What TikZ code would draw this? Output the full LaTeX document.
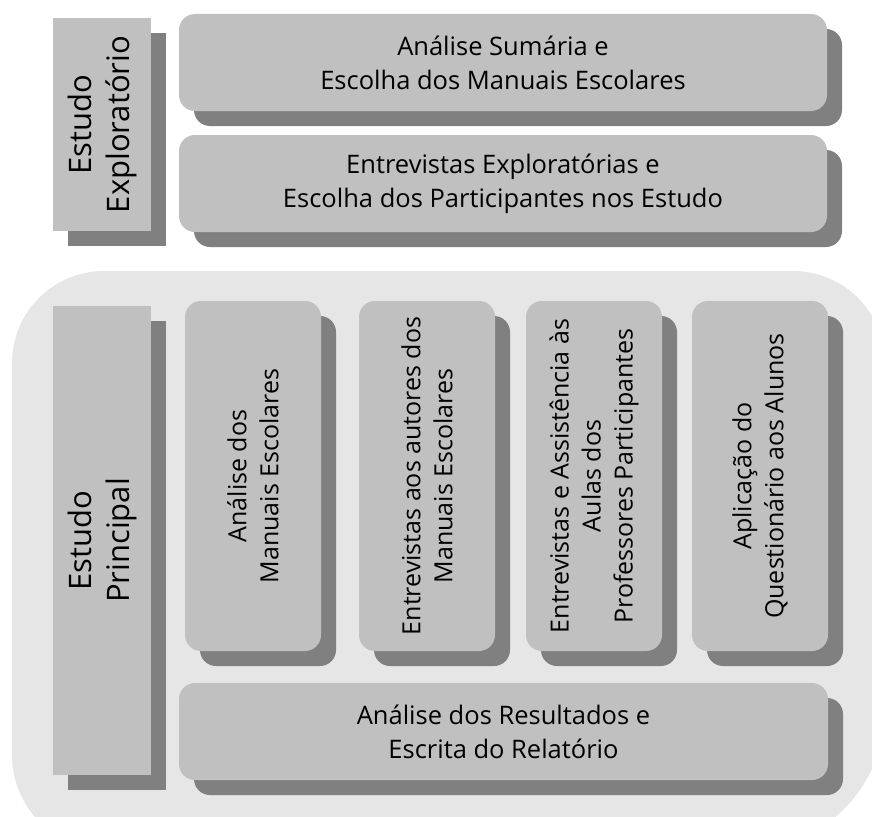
\documentclass[tikz,border=0pt]{standalone}
\usepackage{fontspec}
\setmainfont{Open Sans}
\usetikzlibrary{shadows}
\definecolor{boxgray}{HTML}{C0C0C0}
\definecolor{shadegray}{HTML}{808080}
\definecolor{panelgray}{HTML}{E6E6E6}
\tikzset{
  sh/.style={drop shadow={shadow xshift=15pt, shadow yshift=-15pt, fill=shadegray, opacity=1}},
  flatbox/.style={sh, fill=boxgray, draw=none, inner sep=0pt},
  roundbox/.style={flatbox, rounded corners=16pt},
  htext/.style={font=\fontsize{25.5}{34}\selectfont, align=center, inner sep=0pt},
  vtext/.style={font=\fontsize{25}{32}\selectfont, align=center, rotate=90, inner sep=0pt},
  ltext/.style={font=\fontsize{31}{38}\selectfont, align=center, rotate=90, inner sep=0pt},
}
\begin{document}
\begin{tikzpicture}[x=1pt, y=-1pt]
\useasboundingbox (0,0) rectangle (872,816);
\clip (0,0) rectangle (872,816);
% panel of the main study
\fill[panelgray] (12,755) -- (12,363) arc[start angle=180, end angle=90, radius=92pt]
  -- (793,271) arc[start angle=90, end angle=0, radius=92pt]
  -- (885,710) arc[start angle=0, end angle=-90, radius=140pt]
  -- (107,850) arc[start angle=270, end angle=180, radius=95pt] -- cycle;

% exploratory study
\node[flatbox, minimum width=98pt, minimum height=213pt] (explab) at (102,124.5) {};
\node[ltext] (explabt) at (explab) {Estudo\\Exploratório};
\node[roundbox, minimum width=648pt, minimum height=97pt] (sumaria) at (503,62.5) {};
\node[htext] (sumariat) at (sumaria) {Análise Sumária e\\Escolha dos Manuais Escolares};
\node[roundbox, minimum width=648pt, minimum height=97pt] (entrev) at (503,183.5) {};
\node[htext] (entrevt) at (entrev) {Entrevistas Exploratórias e\\Escolha dos Participantes nos Estudo};

% main study
\node[flatbox, minimum width=98pt, minimum height=469pt] (prilab) at (102,540.5) {};
\node[ltext] (prilabt) at (prilab) {Estudo\\Principal};
\node[roundbox, minimum width=136pt, minimum height=350pt] (v1) at (253,476) {};
\node[vtext] (v1t) at (v1) {Análise dos\\Manuais Escolares};
\node[roundbox, minimum width=136pt, minimum height=350pt] (v2) at (427,476) {};
\node[vtext] (v2t) at (v2) {Entrevistas aos autores dos\\Manuais Escolares};
\node[roundbox, minimum width=136pt, minimum height=350pt] (v3) at (594,476) {};
\node[vtext] (v3t) at (v3) {Entrevistas e Assistência às\\Aulas dos\\Professores Participantes};
\node[roundbox, minimum width=136pt, minimum height=350pt] (v4) at (760,476) {};
\node[vtext] (v4t) at (v4) {Aplicação do\\Questionário aos Alunos};
\node[roundbox, minimum width=649pt, minimum height=97pt] (result) at (503.5,731.5) {};
\node[htext] (resultt) at (result) {Análise dos Resultados e\\Escrita do Relatório};
\end{tikzpicture}
\end{document}
